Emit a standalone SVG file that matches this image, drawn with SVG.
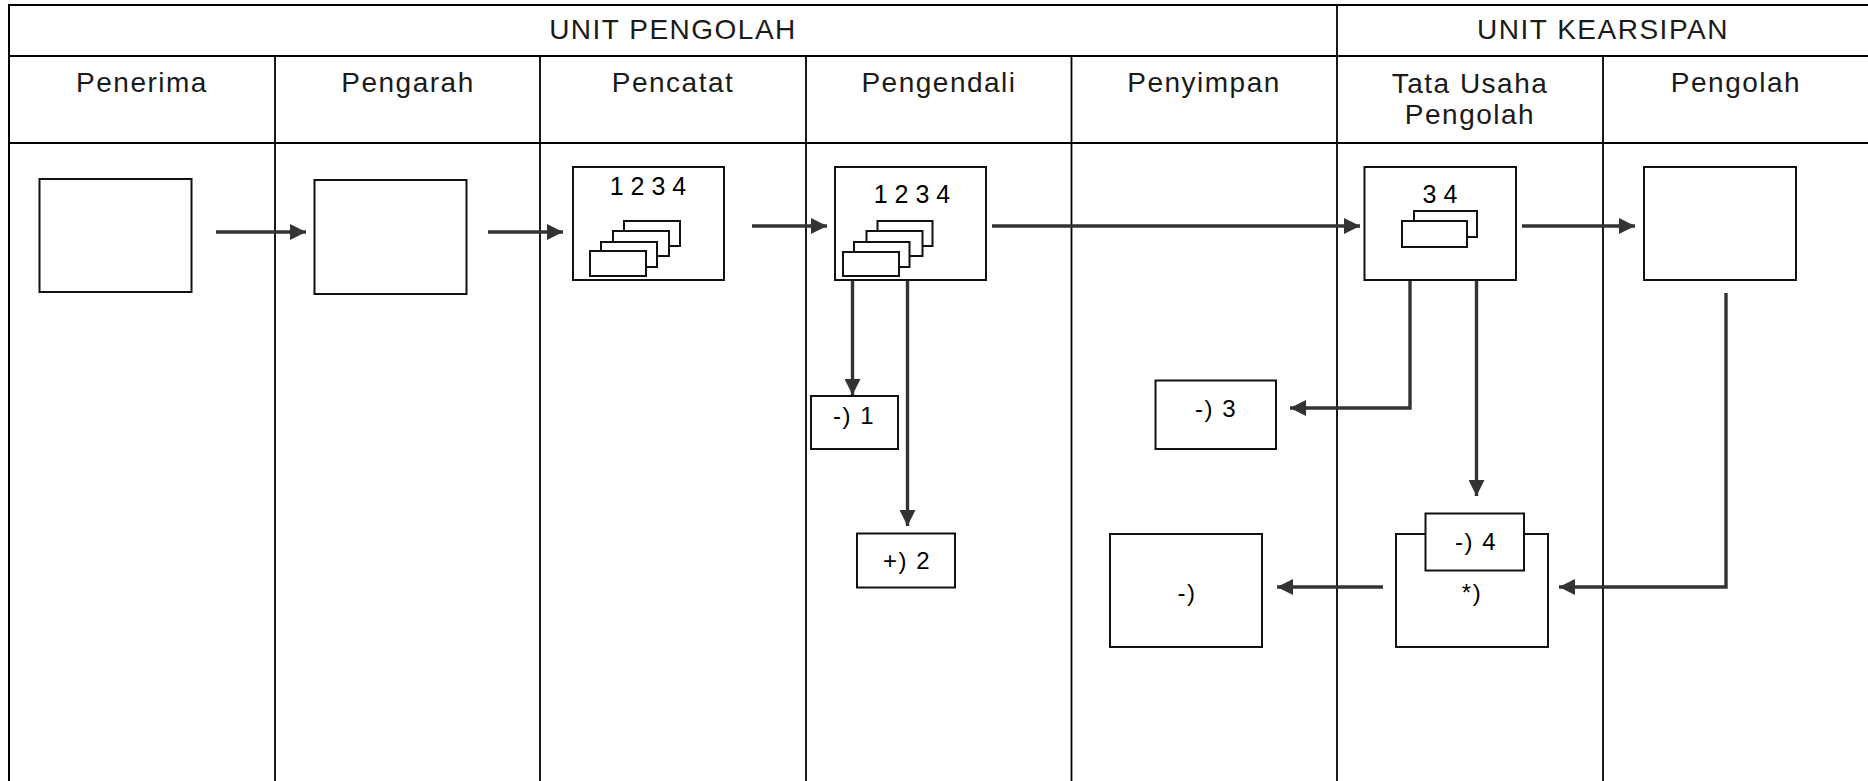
<svg xmlns="http://www.w3.org/2000/svg" width="1868" height="781" viewBox="0 0 1868 781">
<style>
.grid{stroke:#000;stroke-width:2;fill:none}
.div{stroke:#000;stroke-width:1.8;fill:none}
.box{fill:#fff;stroke:#111;stroke-width:2}
.card{fill:#fff;stroke:#111;stroke-width:2}
.hd{font-family:"Liberation Sans",Arial,sans-serif;font-size:28px;letter-spacing:1.5px;fill:#1a1a1a;text-anchor:middle}
.num{font-family:"Liberation Sans",Arial,sans-serif;font-size:25px;fill:#000;text-anchor:middle}
.lbl{font-family:"Liberation Sans",Arial,sans-serif;font-size:24px;letter-spacing:1.5px;fill:#000;text-anchor:middle}
.conn{stroke:#333;stroke-width:3.4;fill:none}
</style>
<defs>
<marker id="ah" markerUnits="userSpaceOnUse" markerWidth="16" markerHeight="16" refX="16" refY="8" orient="auto">
<path d="M0,0 L16,8 L0,16 z" fill="#333"/>
</marker>
</defs>
<rect width="1868" height="781" fill="#fff"/>
<g id="table">
<line class="grid" x1="9" y1="5" x2="1868" y2="5"/>
<line class="grid" x1="9" y1="4" x2="9" y2="781"/>
<line class="grid" x1="9" y1="56" x2="1868" y2="56"/>
<line class="grid" x1="9" y1="143" x2="1868" y2="143"/>
<line class="div" x1="1337" y1="5" x2="1337" y2="781"/>
<line class="div" x1="275" y1="56" x2="275" y2="781"/>
<line class="div" x1="540" y1="56" x2="540" y2="781"/>
<line class="div" x1="806" y1="56" x2="806" y2="781"/>
<line class="div" x1="1071.5" y1="56" x2="1071.5" y2="781"/>
<line class="div" x1="1603" y1="56" x2="1603" y2="781"/>
<text class="hd" x="673" y="39">UNIT PENGOLAH</text>
<text class="hd" x="1603" y="39">UNIT KEARSIPAN</text>
<text class="hd" x="142" y="92">Penerima</text>
<text class="hd" x="408" y="92">Pengarah</text>
<text class="hd" x="673" y="92">Pencatat</text>
<text class="hd" x="939" y="92">Pengendali</text>
<text class="hd" x="1204" y="92">Penyimpan</text>
<text class="hd" x="1470" y="93">Tata Usaha</text>
<text class="hd" x="1470" y="124">Pengolah</text>
<text class="hd" x="1736" y="92">Pengolah</text>
</g>
<g id="connectors">
<line class="conn" x1="216" y1="232" x2="306" y2="232" marker-end="url(#ah)"/>
<line class="conn" x1="488" y1="232" x2="563" y2="232" marker-end="url(#ah)"/>
<line class="conn" x1="752" y1="226" x2="827" y2="226" marker-end="url(#ah)"/>
<line class="conn" x1="992" y1="226" x2="1360" y2="226" marker-end="url(#ah)"/>
<line class="conn" x1="1522" y1="226" x2="1635" y2="226" marker-end="url(#ah)"/>
<line class="conn" x1="852.5" y1="276" x2="852.5" y2="395" marker-end="url(#ah)"/>
<line class="conn" x1="907.5" y1="263" x2="907.5" y2="526" marker-end="url(#ah)"/>
<polyline class="conn" points="1410,252 1410,408 1290,408" marker-end="url(#ah)"/>
<line class="conn" x1="1476.5" y1="241" x2="1476.5" y2="496" marker-end="url(#ah)"/>
<polyline class="conn" points="1726,293 1726,587 1559,587" marker-end="url(#ah)"/>
<line class="conn" x1="1383" y1="587" x2="1277" y2="587" marker-end="url(#ah)"/>
</g>
<g id="penerima">
<rect class="box" x="39.5" y="179" width="152" height="113"/>
</g>
<g id="pengarah">
<rect class="box" x="314.5" y="180" width="152" height="114"/>
</g>
<g id="pencatat">
<rect class="box" x="573" y="167" width="151" height="113"/>
<text class="num" x="648" y="195">1 2 3 4</text>
<rect class="card" x="624" y="221" width="56" height="25"/>
<rect class="card" x="613" y="231" width="56" height="25"/>
<rect class="card" x="601" y="242" width="56" height="25"/>
<rect class="card" x="590" y="251" width="56" height="25"/>
</g>
<g id="pengendali">
<rect class="box" x="835" y="167" width="151" height="113"/>
<text class="num" x="912" y="203">1 2 3 4</text>
<rect class="card" x="877.5" y="221" width="55" height="25"/>
<rect class="card" x="866.5" y="231" width="56" height="25"/>
<rect class="card" x="854" y="242" width="55.5" height="25"/>
<rect class="card" x="843" y="252" width="56" height="24"/>
</g>
<g id="tata-usaha">
<rect class="box" x="1364.5" y="167" width="151.5" height="113"/>
<text class="num" x="1440" y="203">3 4</text>
<rect class="card" x="1414" y="211" width="63" height="26"/>
<rect class="card" x="1402" y="221" width="65" height="26"/>
</g>
<g id="pengolah">
<rect class="box" x="1644" y="167" width="152" height="113"/>
</g>
<g id="box-1">
<rect class="box" x="811" y="396" width="87" height="53"/>
<text class="lbl" x="854" y="424">-) 1</text>
</g>
<g id="box-2">
<rect class="box" x="857" y="533.5" width="98" height="54"/>
<text class="lbl" x="907" y="569">+) 2</text>
</g>
<g id="box-3">
<rect class="box" x="1155.5" y="380.5" width="120.5" height="68.5"/>
<text class="lbl" x="1216" y="417">-) 3</text>
</g>
<g id="box-arsip">
<rect class="box" x="1110" y="534" width="152" height="113"/>
<text class="lbl" x="1187" y="601">-)</text>
</g>
<g id="box-star">
<rect class="box" x="1396" y="534" width="152" height="113"/>
<text class="lbl" x="1472" y="601">*)</text>
</g>
<g id="box-4">
<rect class="box" x="1425.5" y="513.5" width="98.5" height="57"/>
<text class="lbl" x="1476" y="550">-) 4</text>
</g>
</svg>
